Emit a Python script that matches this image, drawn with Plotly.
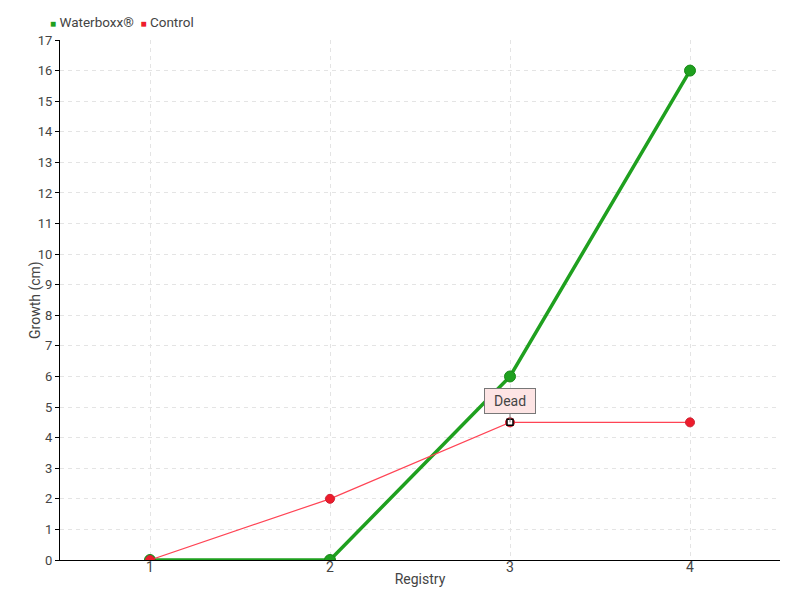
import plotly.graph_objects as go

registry = [1, 2, 3, 4]
waterboxx = [0, 0, 6, 16]
control = [0, 2, 4.5, 4.5]
y_ticks = list(range(0, 18))

FONT = "Roboto, Lato, sans-serif"
GREEN = "#1fa01f"
RED = "#ee1c2c"

fig = go.Figure()
fig.add_trace(go.Scatter(
    x=registry, y=waterboxx, name="Waterboxx®", mode="lines+markers",
    line=dict(color=GREEN, width=3.5), showlegend=False,
    marker=dict(size=11, color=GREEN, line=dict(color="#178a17", width=1)),
))
fig.add_trace(go.Scatter(
    x=registry, y=control, name="Control", mode="lines+markers",
    line=dict(color="#ff4455", width=1.2), showlegend=False,
    marker=dict(size=9, color=RED, line=dict(color="#cc2233", width=1)),
))
# highlighted point
fig.add_trace(go.Scatter(
    x=[registry[2]], y=[control[2]], mode="markers", showlegend=False,
    marker=dict(symbol="square", size=6, color="white", line=dict(color="black", width=1.5)),
    hoverinfo="skip",
))

fig.add_annotation(
    x=registry[2], y=control[2], text="Dead", showarrow=True,
    arrowhead=0, arrowwidth=1, arrowcolor="#777777", ax=0, ay=-21,
    width=44, height=18,
    bgcolor="#fde4e4", bordercolor="#777777", borderwidth=1, borderpad=3,
    font=dict(family=FONT, size=14, color="#444444"),
)

# legend row
fig.add_annotation(
    xref="paper", yref="paper", x=-0.017, y=1.0, yshift=18,
    xanchor="left", yanchor="middle", showarrow=False,
    text=(f"<span style='color:{GREEN};font-size:10px'>■</span> Waterboxx®&nbsp;&nbsp;"
          f"<span style='color:{RED};font-size:10px'>■</span> Control"),
    font=dict(family=FONT, size=13.5, color="#444444"),
)

# y axis title
fig.add_annotation(
    xref="paper", yref="paper", x=0, y=0.5, xshift=-25,
    xanchor="center", yanchor="middle", showarrow=False, textangle=-90,
    text="Growth (cm)", font=dict(family=FONT, size=14, color="#444444"),
)

fig.update_layout(
    width=800, height=600,
    margin=dict(l=60, r=20, t=40, b=40, autoexpand=False),
    paper_bgcolor="white", plot_bgcolor="white",
    font=dict(family=FONT, size=14, color="#444444"),
    showlegend=False,
)

fig.update_xaxes(
    range=[0.5, 4.5], tickvals=registry, ticktext=[str(v) for v in registry],
    showline=True, linecolor="black", linewidth=1, automargin=False,
    showgrid=True, gridcolor="#e4e4e4", griddash="4px,4px", zeroline=False,
    ticks="", ticklabelstandoff=-6, tickfont=dict(size=14, color="#444444"),
    title=dict(text="Registry", standoff=0, font=dict(size=14, color="#444444")),
)
fig.update_yaxes(
    range=[0, 17], tickvals=y_ticks, ticktext=[str(v) for v in y_ticks],
    showline=True, linecolor="black", linewidth=1, automargin=False,
    showgrid=True, gridcolor="#e4e4e4", griddash="4px,4px", zeroline=False,
    ticks="outside", ticklen=4, tickcolor="black",
    tickfont=dict(size=13, color="#444444"),
)

fig.write_html("out.html", config={"displayModeBar": False},
               post_script="document.body.style.margin='0';")
